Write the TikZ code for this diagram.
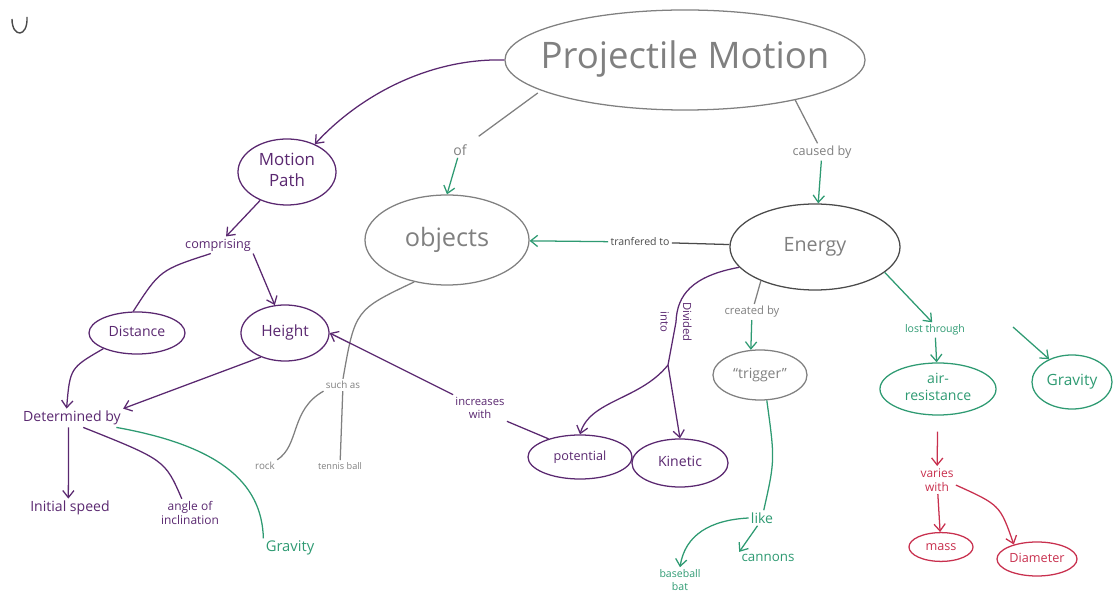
\documentclass[tikz,border=0pt]{standalone}
\usepackage{fontspec}
\setmainfont{Open Sans}
\usetikzlibrary{positioning,shapes.geometric,arrows.meta}
\definecolor{mapPurple}{HTML}{5A2870}
\definecolor{mapGrey}{HTML}{808080}
\definecolor{mapDark}{HTML}{4A4A4A}
\definecolor{mapGreen}{HTML}{2E9A72}
\definecolor{mapRed}{HTML}{C8304E}
\newcommand{\fsz}[1]{\fontsize{#1}{\fpeval{1.2*#1}}\selectfont}
\newcommand{\inb}[1]{\makebox[0pt]{\begin{tabular}{@{}c@{}}#1\end{tabular}}}

\begin{document}
\begin{tikzpicture}[x=0.025cm,y=-0.025cm,
  bub/.style={ellipse,draw,inner sep=0pt,line width=0.9pt},
  lbl/.style={inner sep=1.5pt,align=center},
  link/.style={line width=0.9pt},
  arr/.style={link,-{Straight Barb[length=5pt,width=8pt]}}]
\useasboundingbox (0,0) rectangle (1114,602);
\draw[mapDark,line width=1pt] (12,19) .. controls (12,38) and (28,38) .. (27,17);

\node[bub,draw=mapGrey,text=mapGrey,minimum width=9cm,minimum height=2.5cm,font=\fsz{26}] (pm) at (685,60) {\inb{Projectile Motion}};
\node[bub,draw=mapPurple,text=mapPurple,minimum width=2.45cm,minimum height=1.65cm,font=\fsz{12}] (path) at (287,172) {\inb{Motion\\Path}};
\node[bub,draw=mapGrey,text=mapGrey,minimum width=4.1cm,minimum height=2.25cm,font=\fsz{18}] (obj) at (447,240) {\inb{objects}};
\node[bub,draw=mapDark,text=mapGrey,minimum width=4.25cm,minimum height=2.15cm,font=\fsz{14}] (energy) at (815,247) {\inb{Energy}};
\node[bub,draw=mapPurple,text=mapPurple,minimum width=2.4cm,minimum height=1.05cm,font=\fsz{10}] (dist) at (137,333) {\inb{Distance}};
\node[bub,draw=mapPurple,text=mapPurple,minimum width=2.2cm,minimum height=1.4cm,font=\fsz{11}] (height) at (285,333) {\inb{Height}};
\node[bub,draw=mapPurple,text=mapPurple,minimum width=2.6cm,minimum height=1.1cm,font=\fsz{9}] (pot) at (580,457) {\inb{potential}};
\node[bub,draw=mapPurple,text=mapPurple,minimum width=2.4cm,minimum height=1.2cm,font=\fsz{10}] (kin) at (680,463) {\inb{Kinetic}};
\node[bub,draw=mapGrey,text=mapGrey,minimum width=2.35cm,minimum height=1.25cm,font=\fsz{10}] (trig) at (760,375) {\inb{“trigger”}};
\node[bub,draw=mapGreen,text=mapGreen,minimum width=2.9cm,minimum height=1.3cm,font=\fsz{10}] (air) at (938,389) {\inb{air-\\resistance}};
\node[bub,draw=mapGreen,text=mapGreen,minimum width=2cm,minimum height=1.35cm,font=\fsz{11}] (grav2) at (1072,382) {\inb{Gravity}};
\node[bub,draw=mapRed,text=mapRed,minimum width=1.6cm,minimum height=0.72cm,font=\fsz{9}] (mass) at (941,547) {\inb{mass}};
\node[bub,draw=mapRed,text=mapRed,minimum width=2cm,minimum height=0.85cm,font=\fsz{9}] (diam) at (1037,559) {\inb{Diameter}};

\node[lbl,text=mapGrey,font=\fsz{10}] (of) at (460,150) {of};
\node[lbl,text=mapGrey,font=\fsz{9}] (caused) at (822,152) {caused by};
\node[lbl,text=mapDark,font=\fsz{7.5}] (transf) at (640,242) {tranfered to};
\node[lbl,text=mapPurple,font=\fsz{9}] (compr) at (218,245) {comprising};
\node[lbl,text=mapPurple,font=\fsz{10}] (det) at (72,418) {Determined by};
\node[lbl,text=mapPurple,font=\fsz{10}] (init) at (70,508) {Initial speed};
\node[lbl,text=mapPurple,font=\fsz{8.5}] (angle) at (190,513) {angle of\\inclination};
\node[lbl,text=mapGreen,font=\fsz{10.5}] (grav1) at (290,548) {Gravity};
\node[lbl,text=mapGrey,font=\fsz{7}] (such) at (343,385) {such as};
\node[lbl,text=mapGrey,font=\fsz{7}] (rock) at (265,466) {rock};
\node[lbl,text=mapGrey,font=\fsz{6.5}] (tennis) at (340,466) {tennis ball};
\node[lbl,text=mapPurple,font=\fsz{8}] (incr) at (480,408) {increases\\with};
\node[lbl,text=mapPurple,font=\fontsize{8}{16}\selectfont,rotate=-90] (divided) at (676,322) {Divided\\into};
\node[lbl,text=mapGrey,font=\fsz{8}] (created) at (752,312) {created by};
\node[lbl,text=mapGreen,font=\fsz{10}] (like) at (762,518) {like};
\node[lbl,text=mapGreen,font=\fsz{7.5}] (bat) at (680,580) {baseball\\bat};
\node[lbl,text=mapGreen,font=\fsz{9.5}] (cannons) at (768,558) {cannons};
\node[lbl,text=mapGreen,font=\fsz{7.5}] (lost) at (935,330) {lost through};
\node[lbl,text=mapRed,font=\fsz{8.5}] (varies) at (937,480) {varies\\with};
\coordinate (split) at (668,365);
\coordinate (gs) at (1013,327);

\draw[arr,mapPurple] (pm.west) .. controls (430,58) and (360,95) .. (path.45);
\draw[link,mapGrey,shorten <=1mm,shorten >=3mm] (pm.192) -- (of);
\draw[arr,mapGreen] (of) -- (obj.north);
\draw[link,mapGrey] (pm.-20) -- (caused);
\draw[arr,mapGreen] (caused) -- (energy);
\draw[link,mapDark] (energy) -- (transf);
\draw[arr,mapGreen] (transf) -- (obj);
\draw[arr,mapPurple] (path) -- (compr);
\draw[link,mapPurple] (compr.230) .. controls (160,270) .. (dist.100);
\draw[arr,mapPurple] (compr.south east) -- (height.110);
\draw[arr,mapPurple] (dist.205) .. controls (70,368) .. (det.120);
\draw[arr,mapPurple] (height.225) -- (det.north east);
\draw[arr,mapPurple] (det.250) -- (init.100);
\draw[link,mapPurple] (det.-40) .. controls (165,460) .. (angle.120);
\draw[link,mapGreen] (det.-12) .. controls (215,445) and (262,480) .. (grav1.north west);
\draw[link,mapGrey] (obj.232) .. controls (355,310) .. (such.north);
\draw[link,mapGrey] (such.south west) .. controls (290,410) and (300,445) .. (rock.north east);
\draw[link,mapGrey] (such) -- (tennis);
\draw[link,mapPurple] (pot.150) -- (incr.south east);
\draw[arr,mapPurple] (incr.north west) -- (height.east);
\draw[link,mapPurple] (energy.195) .. controls (692,276) and (677,295) .. (676,322) -- (split);
\draw[arr,mapPurple] (split) .. controls (640,400) and (590,400) .. (pot.north);
\draw[arr,mapPurple] (split) -- (kin.north);
\draw[link,mapGrey] (energy.212) -- (created);
\draw[arr,mapGreen] (created) -- (trig.110);
\draw[link,mapGreen] (trig.-75) .. controls (775,460) .. (like);
\draw[arr,mapGreen] (like.west) .. controls (710,520) and (685,535) .. (bat.north);
\draw[arr,mapGreen] (like.240) -- (cannons.north west);
\draw[arr,mapGreen] (energy.-20) -- (lost.110);
\draw[arr,mapGreen] (lost) -- (air);
\draw[arr,mapGreen] (gs) -- (grav2.135);
\draw[arr,mapRed,shorten <=4mm] (air) -- (varies);
\draw[arr,mapRed] (varies) -- (mass);
\draw[arr,mapRed] (varies.-15) .. controls (1000,505) .. (diam.148);
\end{tikzpicture}
\end{document}
